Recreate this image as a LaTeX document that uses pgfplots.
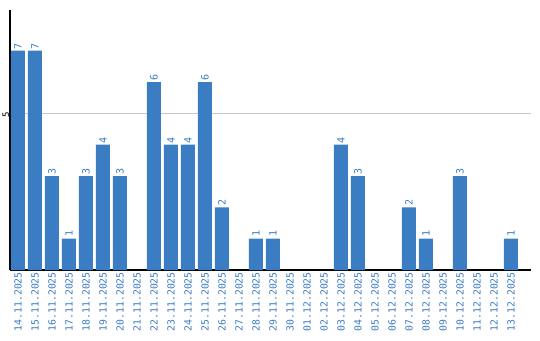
\documentclass[border=0pt]{standalone}
\usepackage{pgfplots}
\pgfplotsset{compat=1.18}
\usepackage{fontspec}
\setmainfont{DejaVu Sans}
\setmonofont{DejaVu Sans Mono}
\definecolor{barblue}{HTML}{3B7DC3}
\definecolor{txtblue}{HTML}{3A7AC4}
\begin{document}
\begin{tikzpicture}
\begin{axis}[
  scale only axis, width=521pt, height=260pt,
  xmin=-0.47, xmax=30.18, ymin=0, ymax=8.3,
  axis lines=left,
  axis line style={-, black, line width=1.1pt},
  ytick={5},
  yticklabel={\pgfmathprintnumber[assume math mode=true]{\tick}},
  yticklabel style={rotate=90, anchor=south, font=\ttfamily\fontsize{9}{9}\selectfont, inner sep=0.5pt, xshift=-1pt},
  ymajorgrids, grid style={black!22, line width=0.8pt},
  major tick length=0pt,
  xtick={0,...,29},
  xticklabels={14.11.2025,15.11.2025,16.11.2025,17.11.2025,18.11.2025,19.11.2025,20.11.2025,21.11.2025,22.11.2025,23.11.2025,24.11.2025,25.11.2025,26.11.2025,27.11.2025,28.11.2025,29.11.2025,30.11.2025,01.12.2025,02.12.2025,03.12.2025,04.12.2025,05.12.2025,06.12.2025,07.12.2025,08.12.2025,09.12.2025,10.12.2025,11.12.2025,12.12.2025,13.12.2025},
  xticklabel style={rotate=90, anchor=east, font=\ttfamily\fontsize{9.8}{10}\selectfont, text=txtblue, inner sep=2pt},
  ybar, bar width=14pt,
  nodes near coords={\pgfmathprintnumber[assume math mode=true]{\pgfplotspointmeta}},
  every node near coord/.append style={rotate=90, anchor=west, font=\ttfamily\fontsize{10}{10}\selectfont, text=txtblue, inner sep=1.5pt},
]
\addplot[fill=barblue, draw=none] coordinates {
(0,7) (1,7) (2,3) (3,1) (4,3) (5,4) (6,3) (8,6) (9,4) (10,4) (11,6) (12,2)
(14,1) (15,1) (19,4) (20,3) (23,2) (24,1) (26,3) (29,1)
};
\end{axis}
\pgfresetboundingbox
\path (current axis.south west) ++(-10pt,-70pt) rectangle ([xshift=9pt,yshift=10pt]current axis.north east);
\end{tikzpicture}
\end{document}
